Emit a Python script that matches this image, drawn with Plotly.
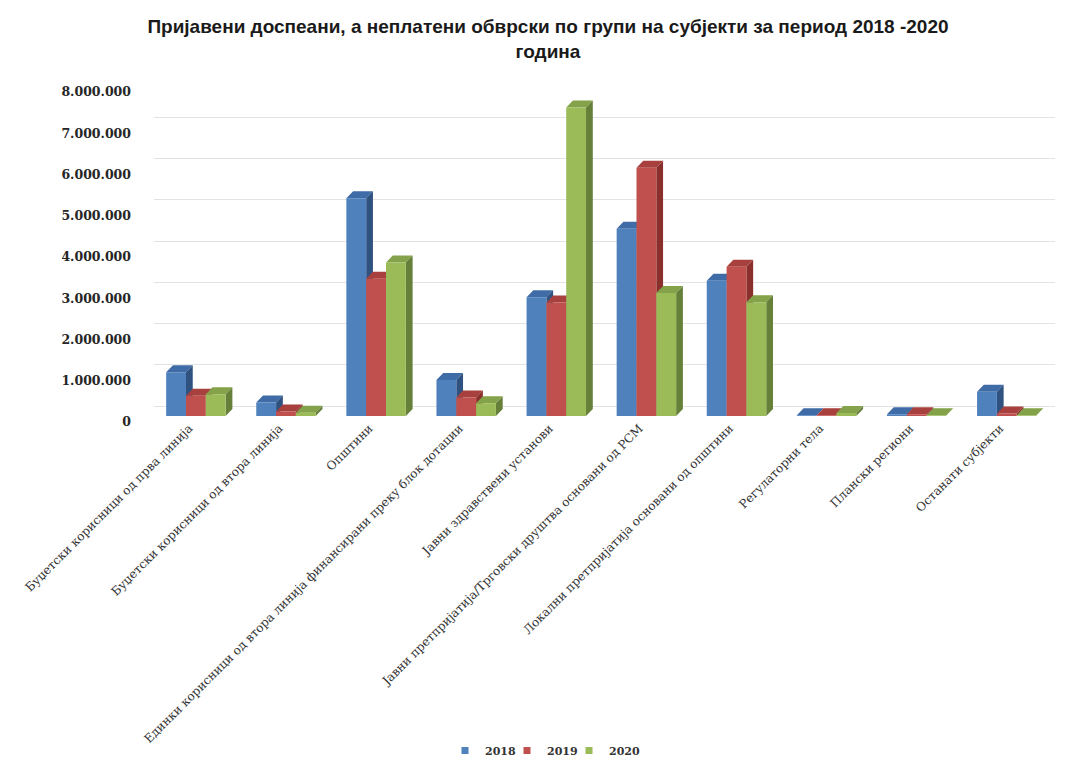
import plotly.graph_objects as go

categories = [
    "Буџетски корисници од прва линија",
    "Буџетски корисници од втора линија",
    "Општини",
    "Единки корисници од втора линија финансирани преку блок дотации",
    "Јавни здравствени установи",
    "Јавни претпријатија/Трговски друштва основани од РСМ",
    "Локални претпријатија основани од општини",
    "Регулаторни тела",
    "Плански региони",
    "Останати субјекти",
]
years = ["2018", "2019", "2020"]
v2018 = [1060000, 330000, 5280000, 870000, 2880000, 4540000, 3280000, 20000, 40000, 590000]
v2019 = [490000, 110000, 3330000, 450000, 2750000, 6020000, 3620000, 20000, 40000, 60000]
v2020 = [530000, 80000, 3720000, 310000, 7480000, 2980000, 2760000, 70000, 20000, 20000]
series = [v2018, v2019, v2020]
y_ticks = [0, 1000000, 2000000, 3000000, 4000000, 5000000, 6000000, 7000000, 8000000]

front_colors = ["#4F81BD", "#C0504D", "#9BBB59"]
top_colors = ["#3F6CA6", "#A8403D", "#84A24A"]
side_colors = ["#2F5280", "#8A2F2C", "#66803A"]

bar_w = 0.22
dx = 0.075
dy = 170000
shift = -0.035
wall = 240000  # back-wall offset of the gridlines

fig = go.Figure()

for k, vals in enumerate(series):
    fx, fy, tx, ty, sx, sy = [], [], [], [], [], []
    for i, v in enumerate(vals):
        x0 = i + shift + (k - 1.5) * bar_w
        x1 = x0 + bar_w
        fx += [x0, x1, x1, x0, x0, None]
        fy += [0, 0, v, v, 0, None]
        tx += [x0, x0 + dx, x1 + dx, x1, x0, None]
        ty += [v, v + dy, v + dy, v, v, None]
        sx += [x1, x1 + dx, x1 + dx, x1, x1, None]
        sy += [0, dy, v + dy, v, 0, None]
    fig.add_trace(go.Scatter(x=tx, y=ty, fill="toself", fillcolor=top_colors[k], mode="lines",
                             line=dict(width=0), showlegend=False, hoverinfo="skip"))
    fig.add_trace(go.Scatter(x=sx, y=sy, fill="toself", fillcolor=side_colors[k], mode="lines",
                             line=dict(width=0), showlegend=False, hoverinfo="skip"))
    fig.add_trace(go.Scatter(x=fx, y=fy, fill="toself", fillcolor=front_colors[k], mode="lines",
                             line=dict(width=0), showlegend=False, hoverinfo="skip"))

W, H = 1065, 757
legend_names = ["legend", "legend2", "legend3"]
legend_left = [437, 499, 561]
legend_font = dict(family="DejaVu Serif", size=11, color="#333333", weight="bold")

for k, yr in enumerate(years):
    fig.add_trace(go.Scatter(x=[None], y=[None], mode="markers", name=yr, yaxis="y2",
                             legend=legend_names[k],
                             marker=dict(symbol="square", size=7, color=front_colors[k])))

legend_layout = {}
for k, ln in enumerate(legend_names):
    legend_layout[ln] = dict(orientation="h", xref="container", yref="container",
                             x=legend_left[k] / W, xanchor="left",
                             y=0, yanchor="bottom",
                             font=legend_font, bgcolor="rgba(0,0,0,0)")

fig.update_layout(
    width=W, height=H,
    paper_bgcolor="white", plot_bgcolor="white",
    margin=dict(l=146, r=18, t=78, b=349, autoexpand=False),
    separators=",.",
    title=dict(
        text="Пријавени доспеани, а неплатени обврски по групи на субјекти за период 2018 -2020<br>година",
        x=0.507, xanchor="center", y=1 - 25 / H, yanchor="middle",
        font=dict(family="Liberation Sans", size=19, color="#1a1a1a", weight="bold"),
    ),
    showlegend=True,
    xaxis=dict(
        range=[-0.5, 9.5], automargin=False,
        tickmode="array", tickvals=list(range(len(categories))), ticktext=categories,
        tickangle=-45, showgrid=False, zeroline=False, showline=False, ticks="",
        ticklabelshift=-10, ticklabelstandoff=2,
        tickfont=dict(family="DejaVu Serif", size=12, color="#333333"),
    ),
    yaxis=dict(
        range=[0, 8000000], tickmode="array", tickvals=y_ticks, automargin=False,
        tickformat=",d", showgrid=False,
        zeroline=False, showline=False, ticks="", ticklabelstandoff=22, ticklabelshift=6,
        tickfont=dict(family="DejaVu Serif", size=12.5, color="#262626", weight="bold"),
    ),
    yaxis2=dict(
        overlaying="y", range=[0 - wall, 8000000 - wall], tickmode="array", tickvals=y_ticks,
        showgrid=True, gridcolor="#E3E3E3", gridwidth=1, showticklabels=False, automargin=False,
        zeroline=False, showline=False, ticks="",
    ),
    **legend_layout,
)

fig.write_html("out.html")
